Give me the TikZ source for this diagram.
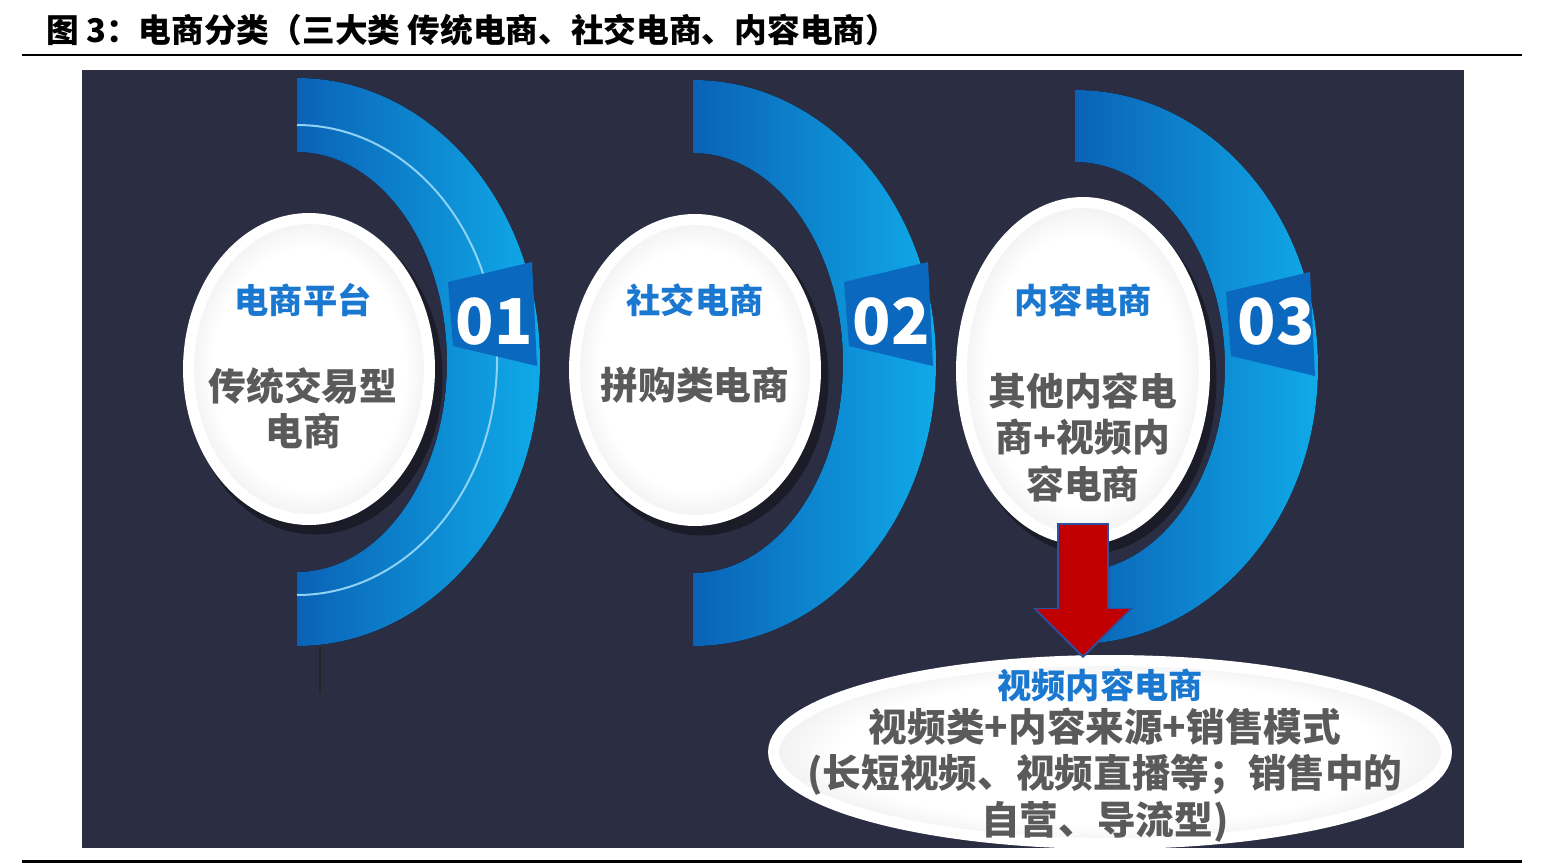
\documentclass[tikz,border=0pt]{standalone}
\usepackage{fontspec}
\setmainfont{Noto Sans CJK SC}
\usetikzlibrary{shapes.geometric,arrows.meta,calc,positioning}
\definecolor{bgnavy}{HTML}{2B2D42}
\definecolor{bandL}{HTML}{0A62B6}
\definecolor{bandR}{HTML}{10AAE8}
\definecolor{tabblue}{HTML}{0A69BE}
\definecolor{headblue}{HTML}{1A78D0}
\definecolor{bodygray}{HTML}{5A5A5A}
\definecolor{eggmid}{HTML}{E4E4E8}
\definecolor{eggrim}{HTML}{CBCBD1}
\definecolor{eggshadow}{HTML}{1B1C28}
\definecolor{lightline}{HTML}{8ED2F4}
\definecolor{arrowred}{HTML}{C00000}
\definecolor{arrowedge}{HTML}{2F4F9F}
\pgfdeclareradialshading{eggshade}{\pgfpoint{0bp}{0bp}}{color(0bp)=(white); color(20bp)=(white); color(30bp)=(eggmid); color(35bp)=(eggrim); color(50bp)=(eggrim)}

\begin{document}
\begin{tikzpicture}[x=0.02cm, y=0.02cm,
    band/.style={left color=bandL, right color=bandR},
    tabbox/.style={fill=tabblue},
    num/.style={text=white, font=\bfseries\fontsize{36}{36}\selectfont},
    egg/.style={ellipse, draw=white, line width=0.22cm, shading=eggshade, inner sep=0pt},
    eggback/.style={ellipse, fill=eggshadow, inner sep=0pt},
    hd/.style={text=headblue, font=\bfseries\fontsize{19.5}{24}\selectfont},
    bd/.style={text=bodygray, font=\bfseries\fontsize{21.5}{25.5}\selectfont, align=center}]

    \useasboundingbox (0,0) rectangle (1552,-866);
    \fill[white] (0,0) rectangle (1552,-866);

    \node (title) [anchor=west, font=\bfseries\fontsize{18.6}{18.6}\selectfont] at (40,-30) {图 3：电商分类（三大类 传统电商、社交电商、内容电商）};
    \draw[line width=0.04cm] (22,-55) -- (1522,-55);
    \fill[bgnavy] (82,-70) rectangle (1464,-848);
    \draw[line width=0.06cm] (22,-861) -- (1522,-861);

    \fill[band] (297,-78) arc[start angle=90, end angle=-90, x radius=243, y radius=284]
        -- (297,-572) arc[start angle=-90, end angle=90, x radius=150, y radius=210] -- cycle;
    \fill[band] (693,-80) arc[start angle=90, end angle=-90, x radius=243, y radius=283]
        -- (693,-573) arc[start angle=-90, end angle=90, x radius=150, y radius=210] -- cycle;
    \fill[band] (1075,-90) arc[start angle=90, end angle=-90, x radius=243, y radius=277]
        -- (1075,-572) arc[start angle=-90, end angle=90, x radius=150, y radius=205] -- cycle;

    \draw[lightline, line width=0.04cm] (297,-125) arc[start angle=90, end angle=-90, x radius=200, y radius=235];
    \draw[black!85, line width=0.03cm] (320,-646) -- (320,-693);

    \fill[tabbox] (448,-282) -- (532,-262) -- (537,-366) -- (453,-346) -- cycle;
    \fill[tabbox] (844,-282) -- (928,-262) -- (933,-366) -- (849,-346) -- cycle;
    \fill[tabbox] (1226,-292) -- (1310,-272) -- (1315,-376) -- (1231,-356) -- cycle;
    \node (n1) [num] at (494,-322) {01};
    \node (n2) [num] at (891,-322) {02};
    \node (n3) [num] at (1276,-322) {03};

    \node (s1) [eggback, minimum width=5.1cm, minimum height=6.3cm] at (315,-377) {};
    \node (s2) [eggback, minimum width=5.1cm, minimum height=6.3cm] at (701,-378) {};
    \node (s3) [eggback, minimum width=5.1cm, minimum height=7.0cm] at (1089,-379) {};
    \node (e1) [egg, minimum width=4.82cm, minimum height=6.02cm] at (309,-369) {};
    \node (e2) [egg, minimum width=4.82cm, minimum height=6.02cm] at (695,-370) {};
    \node (e3) [egg, minimum width=4.86cm, minimum height=6.74cm] at (1083,-371) {};

    \node (h1) [hd] at (303,-300) {电商平台};
    \node (b1) [bd] at (303,-408) {传统交易型\\电商};
    \node (h2) [hd] at (695,-300) {社交电商};
    \node (b2) [bd] at (695,-385) {拼购类电商};
    \node (h3) [hd] at (1083,-300) {内容电商};
    \node (b3) [bd, font=\bfseries\fontsize{21.5}{26.4}\selectfont] at (1083,-437) {其他内容电\\商+视频内\\容电商};

    \node (vid) [egg, minimum width=13.46cm, minimum height=3.66cm] at (1110,-752) {};
    \node (h4) [hd] at (1100,-685) {视频内容电商};
    \node (b4) [bd, font=\bfseries\fontsize{22}{26.6}\selectfont] at (1105,-775) {视频类+内容来源+销售模式\\(长短视频、视频直播等；销售中的\\自营、导流型)};

    \draw[arrowedge, line width=1.04cm, -{Triangle[length=1.0cm, width=2.0cm, line width=0pt]}]
        ($(e3.south)+(0,22)$) -- ($(e3.south |- vid.north)+(0,-3)$);
    \draw[arrowred, line width=0.96cm, -{Triangle[length=0.92cm, width=1.86cm, line width=0pt]}]
        ($(e3.south)+(0,20)$) -- (e3.south |- vid.north);

\end{tikzpicture}
\end{document}
